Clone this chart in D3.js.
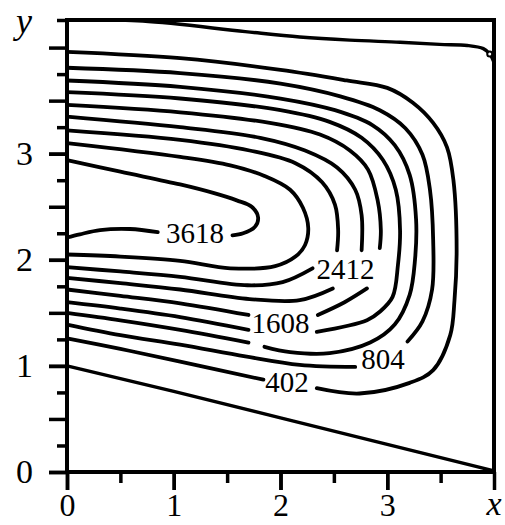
<!DOCTYPE html>
<html>
<head>
<meta charset="utf-8">
<script src="https://cdn.jsdelivr.net/npm/d3@7"></script>
<style>
body { margin: 0; background: #fff; }
</style>
</head>
<body>
<svg width="505" height="525"></svg>
<script>
// contour lines, data units; null = gap left for a label
var c402 = [[0,3.96],[1.06,3.90],[2.0,3.79],[2.62,3.69],[3.0,3.62],[3.24,3.48],[3.43,3.29],[3.56,3.06],[3.62,2.75],[3.65,2.09],[3.63,1.62],[3.59,1.29],[3.43,0.96],[3.21,0.84],[2.74,0.74],[2.34,0.79],null,[1.84,0.87],[1.06,1.04],[0.50,1.16],[0,1.26]];
var c804 = [[0,3.81],[1.06,3.76],[2.0,3.66],[2.56,3.54],[2.93,3.41],[3.17,3.24],[3.33,2.99],[3.40,2.66],[3.43,2.19],[3.42,1.72],[3.33,1.42],[3.19,1.23],null,[2.70,0.99],[2.18,1.01],[1.67,1.09],[1.06,1.20],[0.50,1.29],[0,1.39]];
var c1206 = [[0,3.69],[1.06,3.63],[2.0,3.52],[2.51,3.41],[2.86,3.27],[3.07,3.08],[3.21,2.80],[3.27,2.38],[3.26,2.0],[3.21,1.67],[3.07,1.39],[2.84,1.22],[2.46,1.12],[2.09,1.13],[1.85,1.18],null,[1.70,1.22],[1.06,1.34],[0.50,1.43],[0,1.50]];
var c1608 = [[0,3.58],[1.06,3.52],[2.0,3.41],[2.46,3.30],[2.76,3.15],[2.96,2.94],[3.08,2.66],[3.12,2.28],[3.10,1.95],[3.05,1.65],[2.93,1.51],[2.81,1.43],[2.34,1.32],null,[1.70,1.34],[1.06,1.46],[0.50,1.54],[0,1.60]];
var c2010 = [[0,3.46],[1.06,3.39],[1.90,3.29],[2.37,3.18],[2.65,3.03],[2.82,2.85],[2.91,2.56],[2.94,2.28],[2.93,2.11],null,[2.81,1.73],[2.60,1.60],[2.35,1.48],null,[1.70,1.48],[1.06,1.59],[0.50,1.66],[0,1.72]];
var c2412 = [[0,3.35],[1.06,3.25],[1.81,3.15],[2.23,3.03],[2.53,2.87],[2.70,2.66],[2.76,2.42],[2.76,2.09],null,[2.49,1.73],[2.18,1.62],[1.71,1.63],[1.06,1.72],[0.50,1.78],[0,1.83]];
var c2814 = [[0,3.22],[1.06,3.13],[1.71,3.03],[2.14,2.91],[2.39,2.73],[2.51,2.52],[2.54,2.28],[2.53,2.09],null,[2.30,1.92],[2.02,1.79],[1.69,1.76],[1.06,1.84],[0.50,1.89],[0,1.93]];
var c3216 = [[0,3.10],[1.06,2.97],[1.53,2.89],[1.85,2.79],[2.09,2.66],[2.21,2.49],[2.26,2.30],[2.23,2.14],[2.14,2.03],[1.95,1.94],[1.53,1.92],[1.06,1.99],[0.50,2.03],[0,2.05]];
var c3618 = [[0,2.94],[0.50,2.83],[1.06,2.71],[1.37,2.63],[1.59,2.56],[1.73,2.50],[1.79,2.40],[1.76,2.31],[1.65,2.25],[1.55,2.23],null,[0.85,2.26],[0.59,2.29],[0.31,2.28],[0.12,2.24],[0,2.21]];

// boundary streamlines
var topStream = [[0,4.26],[0.71,4.25],[1.67,4.15],[2.18,4.10],[2.65,4.07],[3.12,4.05],[3.49,4.03],[3.75,4.02],[3.90,3.99],[3.96,3.94],[4.0,3.86]];
var bottomWall = [[0,1.0],[1,0.76],[2,0.51],[3,0.26],[4,0.01]];
var cornerPoint = [[3.96,3.94]];

var labelText = ["3618", "2412", "1608", "804", "402"];
var labelX = [1.20, 2.61, 2.0, 2.96, 2.06];
var labelY = [2.25, 1.91, 1.41, 1.07, 0.85];

var xTickLabels = ["0", "1", "2", "3"];
var yTickLabels = ["0", "1", "2", "3"];
var xLongTicks = [0, 1, 2, 3, 4];
var xShortTicks = [0.5, 1.5, 2.5, 3.5];
var yLongTicks = [0, 0.5, 1, 1.5, 2, 2.5, 3, 3.5, 4];
var yShortTicks = [0.25, 0.75, 1.25, 1.75, 2.25, 2.75, 3.25, 3.75, 4.26];

var svg = d3.select("svg");
var font = "'Liberation Serif', 'Times New Roman', serif";

var x = d3.scaleLinear().domain([0, 4]).range([67, 494]);
var y = d3.scaleLinear().domain([0, 4.26]).range([472, 20]);

var line = d3.line()
    .defined(function(d) { return d != null; })
    .x(function(d) { return x(d[0]); })
    .y(function(d) { return y(d[1]); })
    .curve(d3.curveCatmullRom.alpha(0.5));

var contours = [c402, c804, c1206, c1608, c2010, c2412, c2814, c3216, c3618];

svg.append("g")
    .selectAll("path")
    .data(contours)
    .enter()
    .append("path")
    .attr("d", line)
    .style("fill", "none")
    .style("stroke", "#000")
    .style("stroke-width", 3.8)
    .style("stroke-linecap", "round");

svg.append("path")
    .datum(topStream)
    .attr("d", line)
    .style("fill", "none")
    .style("stroke", "#000")
    .style("stroke-width", 3.4);

svg.append("path")
    .datum(bottomWall)
    .attr("d", d3.line().x(function(d){ return x(d[0]); }).y(function(d){ return y(d[1]); }))
    .style("fill", "none")
    .style("stroke", "#000")
    .style("stroke-width", 3.4);

svg.selectAll(".corner")
    .data(cornerPoint)
    .enter()
    .append("circle")
    .attr("class", "corner")
    .attr("cx", function(d) { return x(d[0]); })
    .attr("cy", function(d) { return y(d[1]); })
    .attr("r", 2.5)
    .style("fill", "#fff")
    .style("stroke", "#000")
    .style("stroke-width", 2);

// contour labels
svg.append("g")
    .selectAll("text")
    .data(labelText)
    .enter()
    .append("text")
    .attr("x", function(d, i) { return x(labelX[i]); })
    .attr("y", function(d, i) { return y(labelY[i]); })
    .attr("dy", "0.35em")
    .attr("text-anchor", "middle")
    .attr("font-family", font)
    .attr("font-size", "29px")
    .attr("fill", "#000")
    .text(function(d) { return d; });

// frame
svg.append("rect")
    .attr("x", x(0))
    .attr("y", y(4.26))
    .attr("width", x(4) - x(0))
    .attr("height", y(0) - y(4.26))
    .style("fill", "none")
    .style("stroke", "#000")
    .style("stroke-width", 4);

// ticks
function styleAxis(g) {
    g.select(".domain").remove();
    g.selectAll(".tick line").style("stroke", "#000").style("stroke-width", 3.5);
    g.selectAll(".tick text")
        .attr("font-family", font)
        .attr("font-size", "34px")
        .attr("fill", "#000");
}

svg.append("g")
    .attr("transform", "translate(0," + y(0) + ")")
    .call(d3.axisBottom(x).tickValues(xShortTicks).tickSize(11).tickFormat(""))
    .call(styleAxis);

svg.append("g")
    .attr("transform", "translate(0," + y(0) + ")")
    .call(d3.axisBottom(x).tickValues(xLongTicks).tickSize(18).tickFormat(""))
    .call(styleAxis);

svg.append("g")
    .attr("transform", "translate(0," + y(0) + ")")
    .call(d3.axisBottom(x).tickValues([0, 1, 2, 3]).tickSize(18).tickPadding(3)
        .tickFormat(function(d, i) { return xTickLabels[i]; }))
    .call(styleAxis)
    .call(function(g) { g.selectAll(".tick text").attr("font-size", "32px"); });

svg.append("g")
    .attr("transform", "translate(" + x(0) + ",0)")
    .call(d3.axisLeft(y).tickValues(yShortTicks).tickSize(10).tickFormat(""))
    .call(styleAxis);

svg.append("g")
    .attr("transform", "translate(" + x(0) + ",0)")
    .call(d3.axisLeft(y).tickValues(yLongTicks).tickSize(18).tickFormat(""))
    .call(styleAxis);

svg.append("g")
    .attr("transform", "translate(" + x(0) + ",0)")
    .call(d3.axisLeft(y).tickValues([0, 1, 2, 3]).tickSize(18).tickPadding(16)
        .tickFormat(function(d, i) { return yTickLabels[i]; }))
    .call(styleAxis);

// axis names
svg.append("text")
    .attr("x", x(4))
    .attr("y", 515)
    .attr("text-anchor", "middle")
    .attr("font-family", font)
    .attr("font-style", "italic")
    .attr("font-size", "34px")
    .text("x");

svg.append("text")
    .attr("x", 24)
    .attr("y", y(4.26) + 13)
    .attr("text-anchor", "middle")
    .attr("font-family", font)
    .attr("font-style", "italic")
    .attr("font-size", "36px")
    .text("y");
</script>
</body>
</html>
